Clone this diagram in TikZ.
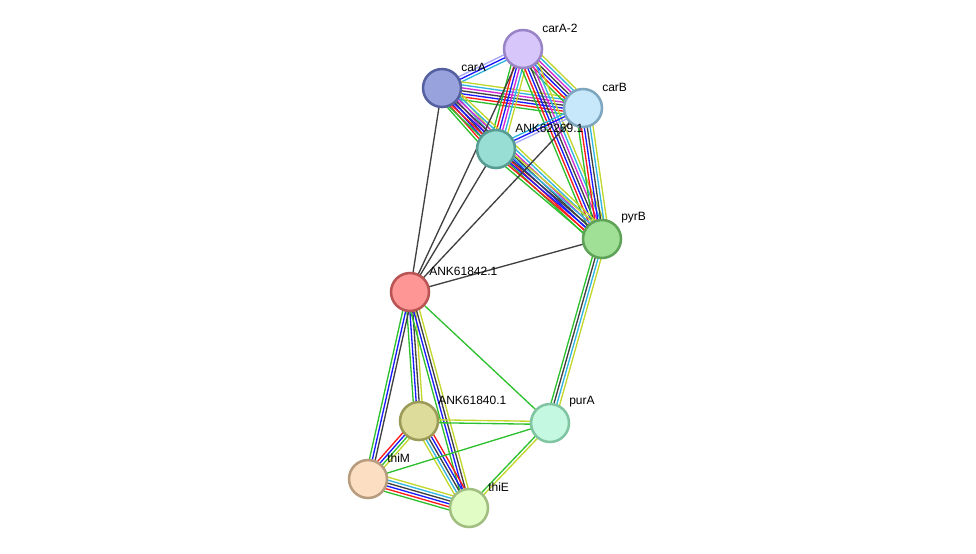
\documentclass[tikz,border=0pt]{standalone}
\usepackage{fontspec}
\setmainfont{Liberation Sans}
\usetikzlibrary{calc,backgrounds}
% evidence channels
\definecolor{eG}{HTML}{2EC02E}
\definecolor{eR}{HTML}{FF1A1A}
\definecolor{eB}{HTML}{1A1AFF}
\definecolor{eK}{HTML}{404040}
\definecolor{eM}{HTML}{D22AD2}
\definecolor{eC}{HTML}{30B4E0}
\definecolor{eY}{HTML}{C2D62C}
\definecolor{eL}{HTML}{A8A8F8}
% node colours
\definecolor{fCarAtwo}{HTML}{D6C6FA}\definecolor{dCarAtwo}{HTML}{9A84C8}
\definecolor{fCarA}{HTML}{98A3DE}\definecolor{dCarA}{HTML}{5560A0}
\definecolor{fCarB}{HTML}{C6E8FA}\definecolor{dCarB}{HTML}{7EA6BE}
\definecolor{fAnkA}{HTML}{98DED4}\definecolor{dAnkA}{HTML}{579C93}
\definecolor{fPyrB}{HTML}{A0E096}\definecolor{dPyrB}{HTML}{5EA358}
\definecolor{fAnkB}{HTML}{FF9696}\definecolor{dAnkB}{HTML}{B85454}
\definecolor{fAnkC}{HTML}{DEDC9A}\definecolor{dAnkC}{HTML}{9C9A58}
\definecolor{fPurA}{HTML}{C4F8E0}\definecolor{dPurA}{HTML}{80C4A2}
\definecolor{fThiM}{HTML}{FCDEC2}\definecolor{dThiM}{HTML}{B89C7E}
\definecolor{fThiE}{HTML}{E2FCC6}\definecolor{dThiE}{HTML}{A0BE80}

% #1 from, #2 to, #3 channel colours
\newcommand{\bundle}[3]{%
  \foreach \col [count=\k] in {#3} {\xdef\nb{\k}}%
  \foreach \col [count=\k] in {#3} {
    \draw[edge,\col] ($(#1.center)!{(\k-(\nb+1)/2)*2.2pt}!90:(#2.center)$)
      -- ($(#2.center)!{(\k-(\nb+1)/2)*2.2pt}!-90:(#1.center)$);
  }}

\begin{document}
\begin{tikzpicture}[x=0.75pt,y=-0.75pt,
    prot/.style={circle,minimum size=28.5pt,inner sep=0pt,line width=1.9pt},
    lbl/.style={anchor=west,inner sep=0pt,font=\fontsize{9}{10}\selectfont},
    edge/.style={line width=1pt}]
  \useasboundingbox (0,0) rectangle (976,554);
  \foreach \n/\x/\y/\t/\f in {carAtwo/523/49/carA-2/CarAtwo, carA/442/88/carA/CarA,
      carB/583/108/carB/CarB, ankA/496/149/ANK62269.1/AnkA, pyrB/602/239/pyrB/PyrB,
      ankB/410/292/ANK61842.1/AnkB, ankC/419/421/ANK61840.1/AnkC,
      purA/550/423/purA/PurA, thiM/368/479/thiM/ThiM, thiE/469/508/thiE/ThiE} {
    \node[prot,fill=f\f,draw=d\f] (\n) at (\x,\y) {};
    \node[lbl] (\n-l) at ($(\n)+(19,-21)$) {\t};
  }
  \begin{pgfonlayer}{background}
    \bundle{carAtwo}{carA}{eL,eB,eC}
    \bundle{carA}{carB}{eG,eR,eB,eK,eM,eC,eY}
    \bundle{carAtwo}{carB}{eG,eR,eB,eK,eM,eC,eY}
    \bundle{carA}{ankA}{eG,eR,eB,eK,eM,eC,eY}
    \bundle{carAtwo}{ankA}{eG,eR,eB,eM,eC,eY}
    \bundle{carAtwo}{pyrB}{eG,eR,eB,eK,eM,eC,eY}
    \bundle{carB}{pyrB}{eG,eR,eB,eK,eC,eY}
    \bundle{carA}{pyrB}{eG,eR,eB,eK,eM,eC,eY}
    \bundle{ankA}{pyrB}{eG,eR,eB,eK,eC,eY}
    \bundle{ankA}{carB}{eL,eB,eC}
    \bundle{ankB}{ankA}{eK}
    \bundle{ankB}{carA}{eK}
    \bundle{ankB}{carAtwo}{eK}
    \bundle{ankB}{carB}{eK}
    \bundle{ankB}{pyrB}{eK}
    \bundle{pyrB}{purA}{eG,eK,eC,eY}
    \bundle{ankB}{purA}{eG}
    \bundle{ankB}{ankC}{eG,eB,eK,eY}
    \bundle{ankB}{thiM}{eG,eB,eK}
    \bundle{ankB}{thiE}{eG,eB,eK,eY}
    \bundle{ankC}{purA}{eG,eY}
    \bundle{ankC}{thiM}{eR,eB,eG,eY}
    \bundle{ankC}{thiE}{eY,eC,eK,eB,eR}
    \bundle{thiM}{thiE}{eG,eR,eB,eK,eC,eY}
    \bundle{thiM}{purA}{eG}
    \bundle{purA}{thiE}{eG,eY}
  \end{pgfonlayer}
\end{tikzpicture}
\end{document}
